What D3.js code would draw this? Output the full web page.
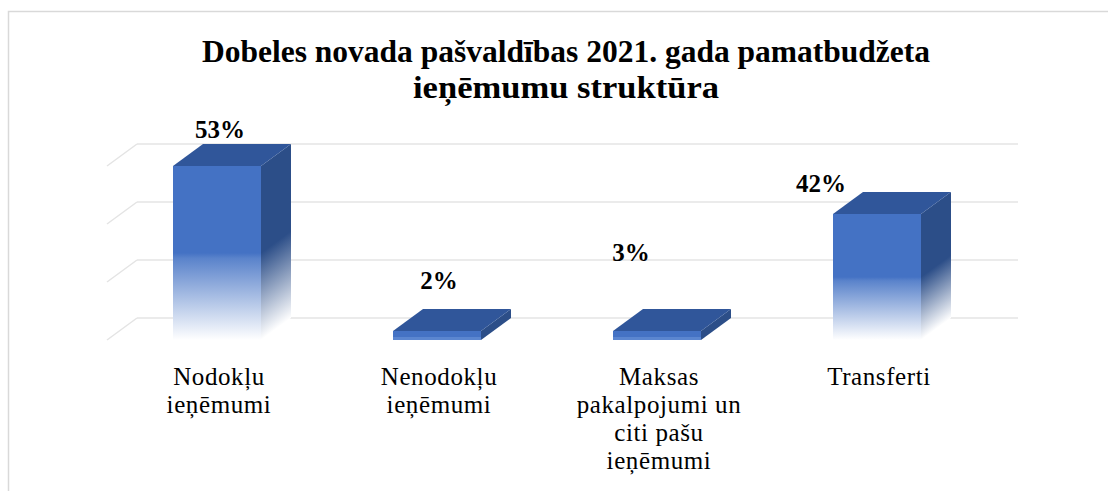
<!DOCTYPE html>
<html>
<head>
<meta charset="utf-8">
<script src="https://cdn.jsdelivr.net/npm/d3@7"></script>
<style>
  html, body { margin: 0; padding: 0; background: #ffffff; }
  svg { display: block; }
</style>
</head>
<body>
<svg id="chart" width="1108" height="491"></svg>
<script>
// ---- data ----
const titleLines = ["Dobeles novada pašvaldības 2021. gada pamatbudžeta", "ieņēmumu  struktūra"];
const categories = ["Nodokļu ieņēmumi", "Nenodokļu ieņēmumi", "Maksas pakalpojumi un citi pašu ieņēmumi", "Transferti"];
const categoryLines = [["Nodokļu", "ieņēmumi"], ["Nenodokļu", "ieņēmumi"], ["Maksas", "pakalpojumi un", "citi pašu", "ieņēmumi"], ["Transferti"]];
const values = [53, 2, 3, 42];
const valueLabels = ["53%", "2%", "3%", "42%"];
const axisMin = 13.1, axisMax = 53;   // value axis of the 3-D chart
const gridCount = 4;

// ---- layout / style ----
const W = 1108, H = 491;
const floorY = 340;            // front edge of floor
const depthX = 30, depthY = -22;
const plotLeft = 107, plotRight = 987;
const plotHeight = 174;
const minSlab = 9;
const labelShift = [[3, -6], [2, -20], [-26, -48], [-56, 0]]; // manual data label placement offsets

const svg = d3.select("#chart");

// border
svg.append("rect").attr("x", 8.5).attr("y", 11.5).attr("width", W + 10).attr("height", H + 10)
  .attr("fill", "none").attr("stroke", "#d9d9d9").attr("stroke-width", 1.5);

// gradients
const defs = svg.append("defs");
const gFront = defs.append("linearGradient").attr("id", "gFront").attr("x1", 0).attr("y1", 0).attr("x2", 0).attr("y2", 1);
gFront.append("stop").attr("offset", 0).attr("stop-color", "#4472c4");
gFront.append("stop").attr("offset", 0.5).attr("stop-color", "#4472c4");
gFront.append("stop").attr("offset", 0.53).attr("stop-color", "#5a83cb");
gFront.append("stop").attr("offset", 1).attr("stop-color", "#ffffff");
const gSide = defs.append("linearGradient").attr("id", "gSide").attr("x1", 0).attr("y1", 0).attr("x2", 0).attr("y2", 1);
gSide.append("stop").attr("offset", 0).attr("stop-color", "#2c4e88");
gSide.append("stop").attr("offset", 0.5).attr("stop-color", "#2c4e88");
gSide.append("stop").attr("offset", 1).attr("stop-color", "#ffffff");

// scales
const x = d3.scaleBand().domain(categories).range([plotLeft, plotRight]).paddingInner(0.6).paddingOuter(0.3);
const h = d3.scaleLinear().domain([axisMin, axisMax]).range([0, plotHeight]).clamp(true);
const gridValues = d3.range(gridCount).map(i => axisMin + i * (axisMax - axisMin) / (gridCount - 1));

// gridlines (back wall + left wall)
const backFloor = floorY + depthY;
const grid = svg.append("g");
gridValues.forEach(v => {
  const yb = backFloor - h(v);
  grid.append("line").attr("x1", plotLeft + depthX).attr("x2", plotRight + depthX + 1)
    .attr("y1", yb).attr("y2", yb).attr("stroke", "#e4e4e4").attr("stroke-width", 1.5);
  grid.append("line").attr("x1", plotLeft).attr("y1", yb - depthY).attr("x2", plotLeft + depthX).attr("y2", yb)
    .attr("stroke", "#e4e4e4").attr("stroke-width", 1.5);
});

// bars
const bw = x.bandwidth();
const bars = svg.append("g");
values.forEach((v, i) => {
  const x0 = x(categories[i]);
  const bh = Math.max(h(v), minSlab);
  const yTop = floorY - bh;
  const tall = h(v) > minSlab;
  const g = bars.append("g");
  // front
  g.append("rect").attr("x", x0).attr("y", yTop).attr("width", bw).attr("height", bh)
    .attr("fill", tall ? "url(#gFront)" : "#4472c4");
  if (!tall) {
    g.append("rect").attr("x", x0).attr("y", floorY - 3).attr("width", bw).attr("height", 3).attr("fill", "#5b86d0");
  }
  // side (skewed rect)
  g.append("g").attr("transform", `matrix(1,${depthY / depthX},0,1,${x0 + bw},${yTop})`)
    .append("rect").attr("x", 0).attr("y", 0).attr("width", depthX).attr("height", bh)
    .attr("fill", tall ? "url(#gSide)" : "#2c4e88");
  // top
  g.append("path").attr("d", `M${x0},${yTop}L${x0 + bw},${yTop}L${x0 + bw + depthX},${yTop + depthY}L${x0 + depthX},${yTop + depthY}Z`)
    .attr("fill", "#30569a");
});

// data labels
values.forEach((v, i) => {
  const bh = Math.max(h(v), minSlab);
  const yBackTop = floorY - bh + depthY;
  svg.append("text").attr("x", x(categories[i]) + bw / 2 + labelShift[i][0])
    .attr("y", yBackTop + labelShift[i][1])
    .attr("text-anchor", "middle").attr("font-family", "'Liberation Serif', 'Times New Roman', serif")
    .attr("font-weight", "bold").attr("font-size", 25).attr("fill", "#000")
    .text(valueLabels[i]);
});

// category labels
categoryLines.forEach((lines, i) => {
  const t = svg.append("text").attr("text-anchor", "middle")
    .attr("font-family", "'Liberation Serif', 'Times New Roman', serif").attr("font-size", 25)
    .attr("letter-spacing", "0.6px").attr("fill", "#000");
  lines.forEach((ln, j) => {
    t.append("tspan").attr("x", x(categories[i]) + bw / 2 + 2).attr("y", 385 + j * 28).text(ln);
  });
});

// title
const titleWidths = [728, 306];
titleLines.forEach((ln, i) => {
  svg.append("text").attr("x", 566).attr("y", 62 + i * 36).attr("text-anchor", "middle")
    .attr("font-family", "'Liberation Serif', 'Times New Roman', serif").attr("font-weight", "bold")
    .attr("font-size", 32).attr("fill", "#000")
    .attr("textLength", titleWidths[i]).attr("lengthAdjust", "spacingAndGlyphs")
    .text(ln);
});
</script>
</body>
</html>
